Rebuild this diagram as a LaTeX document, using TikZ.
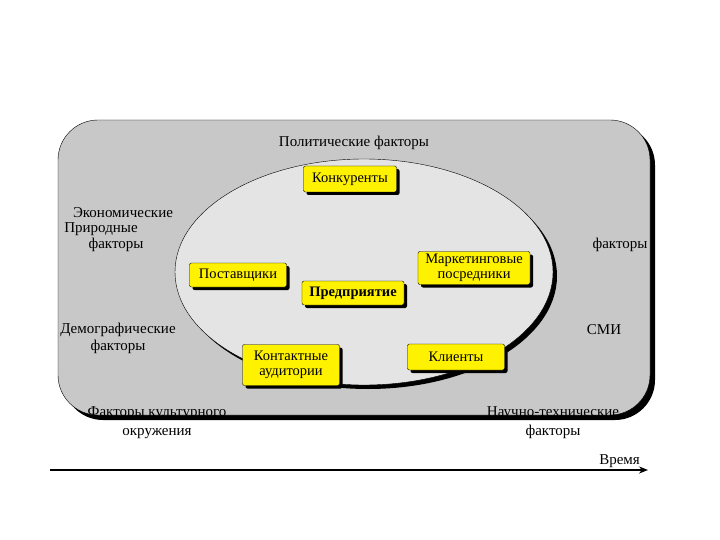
\documentclass[tikz,border=0pt]{standalone}
\usepackage{fontspec}
\setmainfont{Liberation Serif}
\usetikzlibrary{shapes.geometric, arrows.meta, positioning, shadows}
\definecolor{panelgray}{HTML}{C8C8C8}
\definecolor{ovalgray}{HTML}{E4E4E4}
\tikzset{
    % Macro environment - gray rounded panel with black shadow
    env panel/.style={draw=black, fill=panelgray, rounded corners=40pt, inner sep=0pt,
        minimum width=592pt, minimum height=295pt,
        drop shadow={shadow xshift=5pt, shadow yshift=-5pt, fill=black, opacity=1}},
    % Micro environment - light oval
    micro oval/.style={ellipse, draw=black, fill=ovalgray, inner sep=0pt,
        minimum width=378pt, minimum height=226pt,
        drop shadow={shadow xshift=4pt, shadow yshift=-4pt, fill=black, opacity=1}},
    % Actors - yellow boxes
    actor box/.style={draw=black, fill=yellow, rounded corners=2pt, inner sep=2pt,
        align=center, font=\fontsize{14.5}{15.5}\selectfont,
        drop shadow={shadow xshift=3pt, shadow yshift=-3pt, fill=black, opacity=1}},
    % Factor labels
    factor/.style={inner sep=0pt, align=center, font=\fontsize{15}{17}\selectfont},
    % Time axis
    time axis/.style={line width=2.5pt, -{Stealth[length=9pt, width=7pt]}}
}

\begin{document}
\begin{tikzpicture}[x=1pt, y=-1pt]
    \useasboundingbox (0,0) rectangle (720,540);

    % --- Panels ---
    \node[env panel] (macro) at (354,267.5) {};
    \node[micro oval] (micro) at (364,272) {};

    % --- Actors ---
    \node[actor box, minimum width=93pt, minimum height=26pt] (rivals) at (350,179) {Конкуренты};
    \node[actor box, minimum width=97pt, minimum height=24pt] (suppliers) at (238,275) {Поставщики};
    \node[actor box, minimum width=102pt, minimum height=24pt, font=\fontsize{14.5}{15.5}\selectfont\bfseries] (firm) at (353,293) {Предприятие};
    \node[actor box, minimum width=112pt, minimum height=33pt] (brokers) at (474,268) {Маркетинговые\\посредники};
    \node[actor box, minimum width=97pt, minimum height=41pt] (publics) at (291,365) {Контактные\\аудитории};
    \node[actor box, minimum width=97pt, minimum height=26pt] (clients) at (456,357) {Клиенты};

    % --- Macro factors ---
    \node[factor] (polit) at (354,143) {Политические факторы};
    \node[factor] (econ) at (123,213) {Экономические};
    \node[factor] (nature) at (101,229) {Природные};
    \node[factor] (natfact) at (116,245) {факторы};
    \node[factor] (demo) at (118,338) {Демографические\\факторы};
    \node[factor] (social) at (620,245) {факторы};
    \node[factor] (media) at (604,330) {СМИ};
    \node[factor, font=\fontsize{15}{19}\selectfont] (culture) at (157,423) {Факторы культурного\\окружения};
    \node[factor, font=\fontsize{15}{19}\selectfont] (tech) at (553,423) {Научно-технические\\факторы};

    % --- Time axis ---
    \coordinate (t0) at (50,470);
    \coordinate (t1) at (648,470);
    \draw[time axis] (t0) -- (t1);
    \node[factor, anchor=south east] (time) at (640,468) {Время};
\end{tikzpicture}
\end{document}
